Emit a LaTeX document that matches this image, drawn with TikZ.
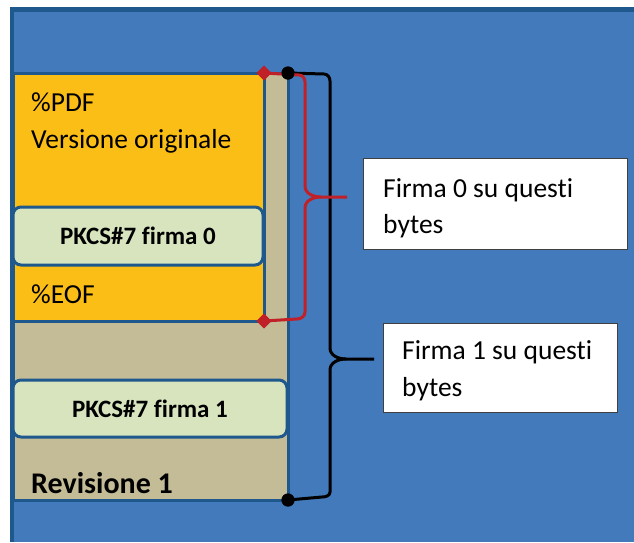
\documentclass[tikz,border=0pt]{standalone}
\usepackage{fontspec}
\setmainfont{Carlito}[Ligatures=CommonOff]
\tikzset{>=latex}
\usetikzlibrary{positioning, calc, shapes.geometric}
\definecolor{bgblue}{RGB}{66,122,188}
\definecolor{edgeblue}{RGB}{31,88,140}
\definecolor{pdfyellow}{RGB}{251,190,22}
\definecolor{revtan}{RGB}{195,188,150}
\definecolor{siggreen}{RGB}{215,228,190}
\definecolor{bracered}{RGB}{192,32,40}
\tikzset{
    layer/.style={draw=edgeblue, line width=3pt, inner sep=0pt, outer sep=0pt, anchor=north west},
    sigbox/.style={layer, fill=siggreen, rounded corners=8pt, font=\bfseries\fontsize{25}{30}\selectfont},
    callout/.style={draw=black!75, line width=1pt, fill=white, anchor=north west, inner sep=0pt},
    enddot/.style={circle, fill=black, inner sep=0pt, minimum size=13pt},
    endmark/.style={diamond, fill=bracered, inner sep=0pt, minimum size=15pt, aspect=0.8},
    plain/.style={anchor=base west, inner sep=0pt, font=\fontsize{27.5}{33}\selectfont}
}

\begin{document}
\begin{tikzpicture}[x=1pt, y=-1pt]
    \useasboundingbox (0,0) rectangle (634,542);
    \fill[bgblue] (10,7) rectangle (634,542);
    \draw[edgeblue, line width=4.5pt] (634,9.5) -- (12,9.5) -- (12,542);

    \node[layer, fill=revtan, minimum width=275pt, minimum height=427pt] (rev) at (13,73) {};
    \node[layer, fill=pdfyellow, minimum width=251pt, minimum height=248pt] (orig) at (rev.north west) {};
    \node[sigbox, minimum width=250pt, minimum height=58pt] (sig0) at (13,207) {PKCS\#7 firma 0};
    \node[sigbox, minimum width=274pt, minimum height=57pt] (sig1) at (13,380) {PKCS\#7 firma 1};

    \node[plain] (pdf) at (31,111) {\%PDF};
    \node[plain] (vers) at (31,148) {Versione originale};
    \node[plain] (eof) at (31,303) {\%EOF};
    \node[plain, font=\bfseries\fontsize{30}{36}\selectfont] (revlbl) at (31,493) {Revisione 1};

    \node[callout, minimum width=264pt, minimum height=91pt] (c0) at (363,158) {};
    \node[callout, minimum width=234pt, minimum height=89pt, below right=73pt and 20pt of c0.south west, anchor=north west] (c1) {};
    \node[plain] (c0a) at ($(c0.north west)+(20,39)$) {Firma 0 su questi};
    \node[plain] (c0b) at ($(c0a.base west)+(0,36)$) {bytes};
    \node[plain] (c1a) at ($(c1.north west)+(19,36)$) {Firma 1 su questi};
    \node[plain] (c1b) at ($(c1a.base west)+(0,37)$) {bytes};

    \node[endmark] (m0top) at (264,73) {};
    \node[endmark] (m0bot) at (264,321) {};
    \node[enddot] (d1top) at (288,73) {};
    \node[enddot] (d1bot) at (288,500) {};
    \coordinate (tip1) at (374,359);
    \coordinate (tip0) at (347,197);

    % signature 1 covers the whole file
    \draw[black, line width=3pt] (d1top.center) -- (324,74) to[out=0,in=90] (330,81) -- (330,348)
        to[out=-90,in=180] (346,359) -- (tip1);
    \draw[black, line width=3pt] (346,359) to[out=180,in=90] (330,370) -- (330,492)
        to[out=-90,in=0] (322,497) -- (d1bot.center);
    % signature 0 covers the original version
    \draw[bracered, line width=3pt] (m0top.center) -- (299,75) to[out=0,in=90] (305,82) -- (305,186)
        to[out=-90,in=180] (321,197) -- (tip0);
    \draw[bracered, line width=3pt] (321,197) to[out=180,in=90] (305,208) -- (305,312)
        to[out=-90,in=0] (297,319) -- (m0bot.center);

    \node[endmark] at (m0top) {};
    \node[endmark] at (m0bot) {};
    \node[enddot] at (d1top) {};
    \node[enddot] at (d1bot) {};
\end{tikzpicture}
\end{document}
